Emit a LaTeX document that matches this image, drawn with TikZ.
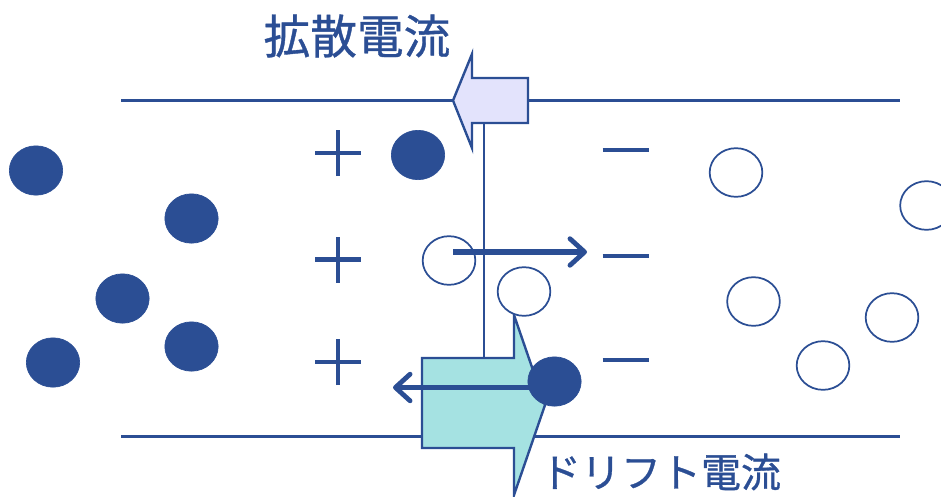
\documentclass[tikz,border=0pt]{standalone}
\usepackage{fontspec}
\setmainfont[FakeBold=0.8]{Noto Sans CJK JP}
\definecolor{navy}{HTML}{2B4E94}
\definecolor{lav}{HTML}{E3E3FC}
\definecolor{aqua}{HTML}{A5E2E2}
\usetikzlibrary{shapes.geometric,arrows.meta}
\tikzset{
  x=0.75pt,y=-0.75pt,
  rail/.style={draw=navy,line width=1.6pt},
  blockarrow/.style={draw=navy,line width=1.8pt,line join=miter},
  hole/.style={draw=navy,fill=white,line width=1.3pt,ellipse,inner sep=0pt,minimum width=39.5pt,minimum height=36.5pt},
  electron/.style={fill=navy,draw=navy,line width=0.5pt,ellipse,inner sep=0pt,minimum width=40pt,minimum height=37pt},
  sign/.style={draw=navy,line width=3.6pt},
  move/.style={draw=navy,line width=4pt,-{Straight Barb[length=11pt,width=20pt,line width=3.6pt,round]}},
  lbl/.style={text=navy,inner sep=0pt,anchor=center}
}
\begin{document}
\begin{tikzpicture}
\useasboundingbox (0,0) rectangle (941,496);
% rails
\coordinate (t1) at (121,100.5); \coordinate (t2) at (900,100.5);
\coordinate (b1) at (121,436.5); \coordinate (b2) at (900,436.5);
\coordinate (v1) at (484,100.5); \coordinate (v2) at (484,400);
\draw[rail] (t1) -- (t2);
\draw[rail] (b1) -- (b2);
\draw[rail] (v1) -- (v2);
% block arrows
\draw[blockarrow,fill=lav] (453,100.5) -- (472,54) -- (472,78) -- (528,78) -- (528,123) -- (472,123) -- (472,148) -- cycle;
\draw[blockarrow,fill=aqua] (422,358) -- (514,358) -- (514,315) -- (545,405) -- (514,495) -- (514,448) -- (422,448) -- cycle;
% signs
\foreach \n/\y in {p1/153,p2/259.5,p3/362}{
  \coordinate (\n) at (338,\y);
  \draw[sign] ([xshift=-17.25pt]\n) -- ([xshift=17.25pt]\n);
  \draw[sign] ([yshift=-17.25pt]\n) -- ([yshift=17.25pt]\n);
}
\foreach \n/\y in {m1/150,m2/256,m3/360}{
  \coordinate (\n) at (625.5,\y);
  \draw[sign] ([xshift=-17.25pt]\n) -- ([xshift=17.25pt]\n);
}
% carriers
\node[electron] (e1) at (36,170.5) {};
\node[electron] (e2) at (191.5,218.5) {};
\node[electron] (e3) at (122.5,298.5) {};
\node[electron] (e4) at (53,362.5) {};
\node[electron] (e5) at (191.5,346.5) {};
\node[electron] (e6) at (418,155) {};
\node[hole] (h1) at (449,260.5) {};
\node[hole] (h2) at (524,291.5) {};
\node[hole] (h3) at (736,172.5) {};
\node[hole] (h4) at (926.5,205.5) {};
\node[hole] (h5) at (753.5,301.5) {};
\node[hole] (h6) at (892,317.5) {};
\node[hole] (h7) at (823,365.5) {};
% motion arrows
\coordinate (a1) at (453,252); \coordinate (a2) at (587,252);
\coordinate (c1) at (540,387.5); \coordinate (c2) at (393,387.5);
\draw[move] (a1) -- (a2);
\draw[move] (c1) -- (c2);
\node[electron] (e7) at (554.5,381.5) {};
% labels
\node[lbl,font=\fontsize{35pt}{35pt}\selectfont] (l1) at (357,36) {拡散電流};
\node[lbl,font=\fontsize{30pt}{30pt}\selectfont] (l2) at (661,472) {ドリフト電流};
\end{tikzpicture}
\end{document}
